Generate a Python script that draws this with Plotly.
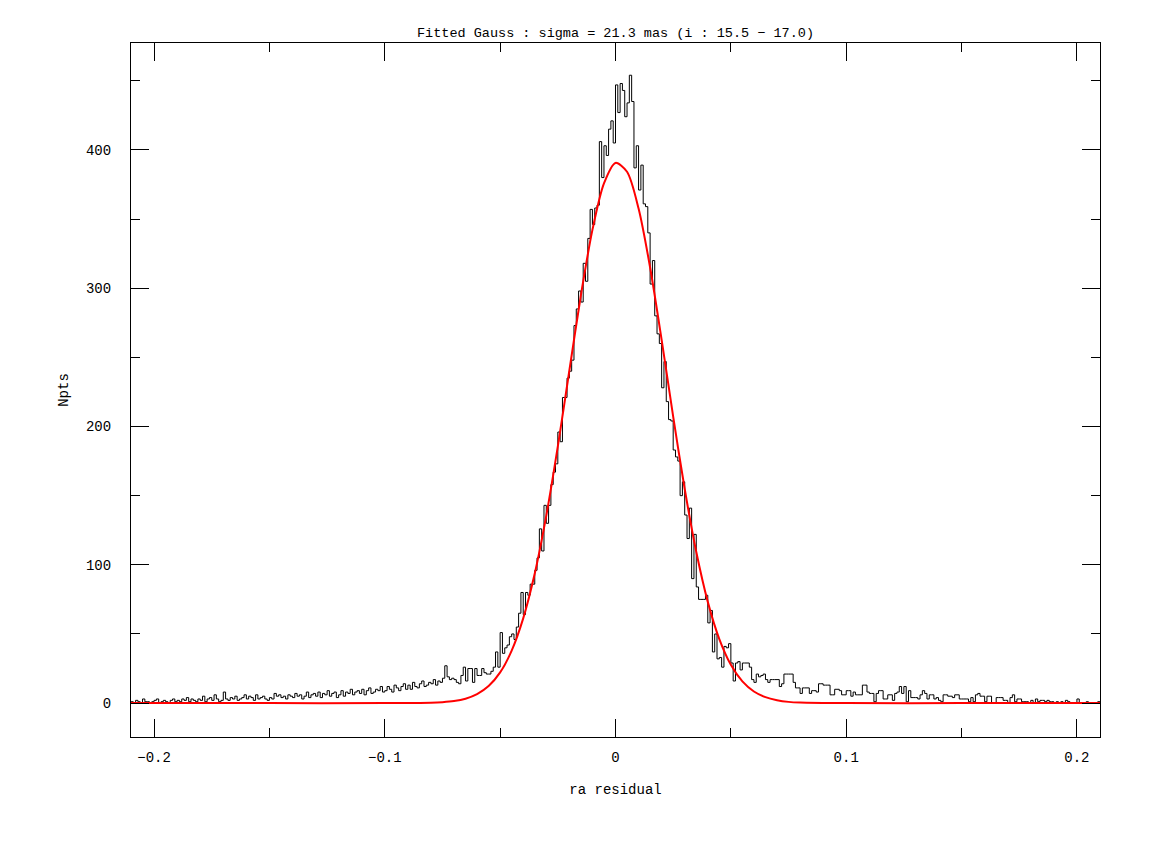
import numpy as np
import plotly.graph_objects as go

# histogram of ra residuals, bin width 0.001 from -0.21 to 0.21
bin_start = -0.21
bin_width = 0.001
counts = [
    1, 0, 2, 1, 0, 3, 1, 1, 0, 1,
    2, 3, 0, 1, 2, 1, 0, 2, 3, 1,
    2, 1, 3, 2, 4, 1, 3, 2, 1, 3,
    2, 5, 1, 3, 4, 2, 6, 3, 1, 2,
    8, 3, 2, 4, 3, 5, 2, 3, 4, 6,
    3, 5, 4, 2, 6, 3, 4, 5, 3, 2,
    4, 3, 7, 5, 6, 4, 5, 3, 6, 5,
    4, 7, 5, 6, 3, 5, 8, 4, 6, 7,
    5, 8, 4, 7, 6, 9, 5, 7, 8, 4,
    6, 9, 5, 8, 7, 10, 6, 8, 9, 7,
    10, 6, 9, 11, 7, 8, 10, 9, 12, 8,
    9, 12, 10, 8, 13, 11, 9, 12, 14, 10,
    13, 10, 15, 12, 11, 14, 16, 12, 13, 15,
    14, 17, 13, 16, 15, 18, 27, 19, 17, 18,
    17, 15, 14, 20, 26, 16, 25, 25, 15, 25,
    20, 20, 25, 22, 21, 21, 23, 26, 37, 26,
    51, 36, 40, 42, 48, 50, 46, 55, 65, 80,
    64, 80, 78, 86, 86, 96, 105, 126, 110, 143,
    130, 143, 158, 167, 173, 196, 189, 221, 221, 235,
    240, 248, 273, 285, 298, 290, 318, 305, 336, 357,
    346, 358, 360, 406, 380, 403, 396, 415, 421, 405,
    447, 427, 448, 443, 424, 434, 454, 435, 387, 403,
    371, 389, 361, 359, 340, 303, 320, 280, 267, 260,
    228, 247, 218, 205, 204, 183, 178, 175, 150, 160,
    136, 119, 141, 90, 122, 84, 75, 75, 75, 78,
    58, 67, 37, 50, 32, 33, 26, 41, 40, 43,
    29, 16, 29, 30, 24, 29, 29, 29, 26, 17,
    15, 21, 19, 20, 21, 17, 15, 17, 17, 17,
    17, 12, 14, 21, 21, 21, 21, 15, 11, 11,
    7, 11, 11, 11, 7, 9, 9, 8, 14, 14,
    13, 13, 13, 6, 6, 10, 10, 9, 6, 6,
    9, 9, 5, 8, 6, 6, 6, 13, 13, 8,
    7, 7, 1, 7, 9, 9, 3, 3, 6, 6,
    2, 7, 8, 12, 7, 12, 1, 9, 4, 4,
    4, 3, 6, 9, 7, 3, 6, 6, 3, 4,
    2, 1, 6, 6, 5, 5, 4, 6, 6, 3,
    3, 3, 3, 1, 4, 1, 6, 7, 5, 5,
    1, 5, 5, 0, 0, 4, 4, 4, 2, 2,
    0, 4, 6, 1, 3, 3, 1, 1, 1, 0,
    2, 0, 3, 1, 2, 2, 1, 2, 1, 1,
    0, 1, 0, 1, 0, 2, 1, 0, 0, 0,
    3, 0, 0, 0, 1, 0, 0, 0, 0, 1,
]

# fitted gauss
fit_x = [-0.21, -0.15, -0.10, -0.080, -0.075, -0.070, -0.065, -0.060, -0.055,
         -0.050, -0.045, -0.040, -0.035, -0.030, -0.025, -0.020, -0.015,
         -0.010, -0.005, 0.000, 0.005, 0.010, 0.015, 0.020, 0.025, 0.030,
         0.035, 0.040, 0.045, 0.050, 0.055, 0.060, 0.065, 0.070, 0.075,
         0.080, 0.10, 0.15, 0.21]
fit_y = [0, 0, 0, 0.3, 0.7, 1.5, 3.2, 6.5, 12.3,
         22.2, 38.0, 61.3, 93.7, 135.6, 185.6, 240.5, 294.9,
         342.2, 375.8, 390.6, 384.2, 357.6, 315.0, 262.7, 207.2, 154.8,
         109.4, 73.2, 46.3, 27.7, 15.7, 8.4, 4.3, 2.1, 0.9,
         0.4, 0, 0, 0]

x_ticks = [-0.2, -0.1, 0, 0.1, 0.2]
x_labels = ["\u22120.2", "\u22120.1", "0", "0.1", "0.2"]
y_ticks = [0, 100, 200, 300, 400]

edges = bin_start + bin_width * np.arange(len(counts) + 1)
step_y = counts + [counts[-1]]

FONT = "Liberation Mono"

fig = go.Figure()
fig.add_trace(go.Scatter(
    x=edges, y=step_y,
    mode="lines",
    line=dict(color="black", width=1, shape="hv"),
    showlegend=False,
))
fig.add_trace(go.Scatter(
    x=fit_x, y=fit_y,
    mode="lines",
    line=dict(color="#ff0000", width=2, shape="spline", smoothing=0.8),
    showlegend=False,
))

axis_common = dict(
    showline=True, linecolor="black", linewidth=1, mirror="ticks",
    ticks="inside", ticklen=18, tickcolor="black", tickwidth=1,
    showgrid=False, zeroline=False,
    tickfont=dict(family=FONT, size=14, color="black"),
)

# the page body adds an 8px margin, so the figure is a bit smaller
fig.update_layout(
    width=1142, height=835,
    margin=dict(l=123, r=50, t=35, b=106),
    paper_bgcolor="white", plot_bgcolor="white",
    font=dict(family=FONT, size=14, color="black"),
    title=dict(text="Fitted Gauss : sigma = 21.3 mas (i : 15.5 \u2212 17.0)",
               x=0.5, xref="paper", xanchor="center",
               y=0.971, yref="container", yanchor="middle",
               font=dict(family=FONT, size=13.5, color="black")),
    xaxis=dict(
        range=[-0.21, 0.21],
        tickvals=x_ticks, ticktext=x_labels,
        minor=dict(dtick=0.05, tick0=0, ticks="inside", ticklen=9, tickcolor="black"),
        ticklabelstandoff=7,
        title=dict(text="ra residual", standoff=19,
                   font=dict(family=FONT, size=14, color="black")),
        **axis_common,
    ),
    yaxis=dict(
        range=[-24.5, 477.3],
        tickvals=y_ticks,
        minor=dict(dtick=50, tick0=0, ticks="inside", ticklen=9, tickcolor="black"),
        ticklabelstandoff=16,
        title=dict(text="Npts", standoff=14,
                   font=dict(family=FONT, size=14, color="black")),
        **axis_common,
    ),
)

fig.write_html("out.html")
